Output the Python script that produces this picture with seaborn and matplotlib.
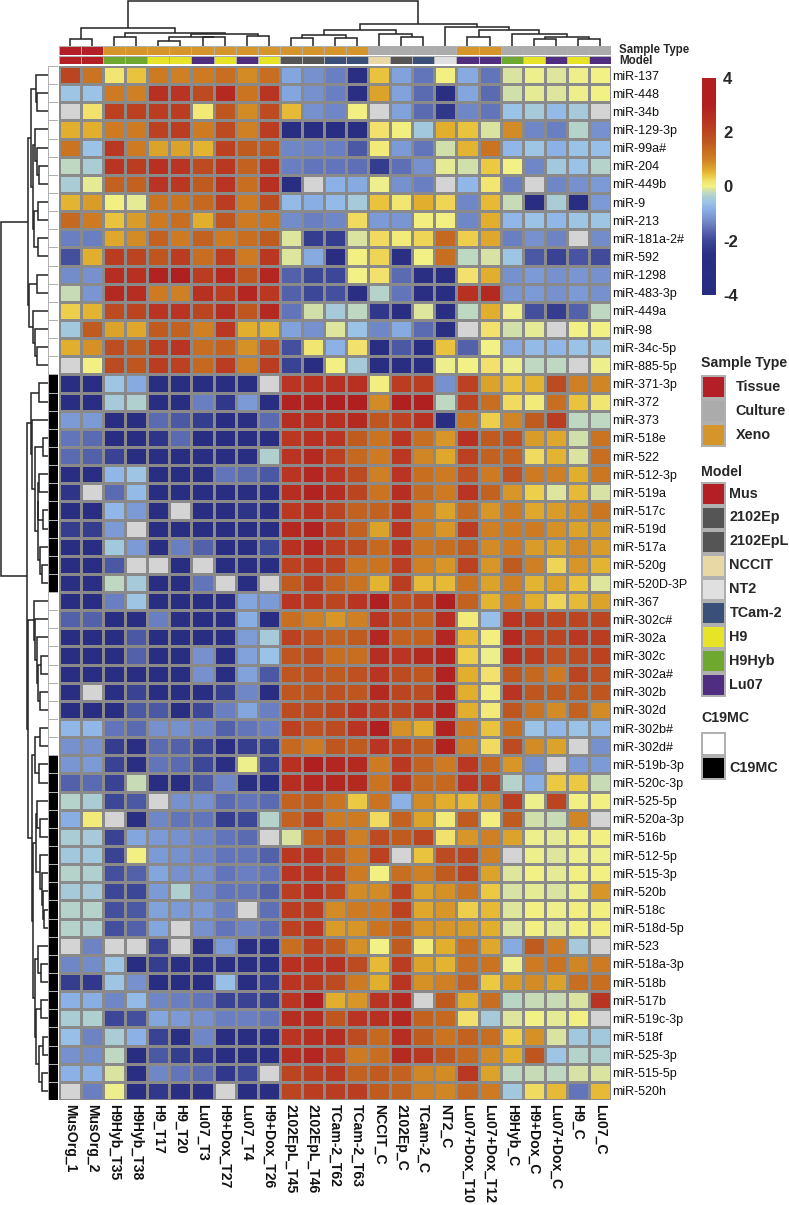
#!/usr/bin/env python3

import numpy as np
import pandas as pd
import seaborn as sns
from matplotlib import pyplot as plt
from matplotlib.colors import LinearSegmentedColormap, ListedColormap

NA = np.nan

samples = ['MusOrg_1', 'MusOrg_2', 'H9Hyb_T35', 'H9Hyb_T38', 'H9_T17', 'H9_T20',
           'Lu07_T3', 'H9+Dox_T27', 'Lu07_T4', 'H9+Dox_T26', '2102EpL_T45',
           '2102EpL_T46', 'TCam-2_T62', 'TCam-2_T63', 'NCCIT_C', '2102Ep_C',
           'TCam-2_C', 'NT2_C', 'Lu07+Dox_T10', 'Lu07+Dox_T12', 'H9Hyb_C',
           'H9+Dox_C', 'Lu07+Dox_C', 'H9_C', 'Lu07_C']

mirnas = ['miR-137', 'miR-448', 'miR-34b', 'miR-129-3p', 'miR-99a#', 'miR-204',
          'miR-449b', 'miR-9', 'miR-213', 'miR-181a-2#', 'miR-592', 'miR-1298',
          'miR-483-3p', 'miR-449a', 'miR-98', 'miR-34c-5p', 'miR-885-5p',
          'miR-371-3p', 'miR-372', 'miR-373', 'miR-518e', 'miR-522', 'miR-512-3p',
          'miR-519a', 'miR-517c', 'miR-519d', 'miR-517a', 'miR-520g', 'miR-520D-3P',
          'miR-367', 'miR-302c#', 'miR-302a', 'miR-302c', 'miR-302a#', 'miR-302b',
          'miR-302d', 'miR-302b#', 'miR-302d#', 'miR-519b-3p', 'miR-520c-3p',
          'miR-525-5p', 'miR-520a-3p', 'miR-516b', 'miR-512-5p', 'miR-515-3p',
          'miR-520b', 'miR-518c', 'miR-518d-5p', 'miR-523', 'miR-518a-3p', 'miR-518b',
          'miR-517b', 'miR-519c-3p', 'miR-518f', 'miR-525-3p', 'miR-515-5p', 'miR-520h']

# top block, miR-137 .. miR-885-5p
values_top = [
    [2.0, 1.2, 0.15, 0.45, 1.1, 1.0, 1.1, 1.3, 0.9, 1.3, -0.95, -1.2, -1.4, -2.6, 0.45, -1.0, -1.5, 0.03, -0.9, -1.5, -0.1, -0.03, -0.08, -0.02, 0.0],
    [-0.55, -0.6, 1.1, 1.0, 2.5, 2.4, 1.9, 2.7, 1.2, 2.4, -0.95, -1.2, -1.4, -2.6, 0.7, -1.0, -1.6, -2.6, -0.95, -1.6, -0.15, -0.05, -0.08, -0.02, 0.0],
    [NA, 0.2, 2.1, 2.1, 2.2, 2.2, 0.12, 1.7, 0.9, 1.9, 0.5, -1.2, -1.3, 0.02, NA, -1.0, -1.6, -2.3, -1.3, -1.5, -0.6, -0.45, -0.7, -0.45, NA],
    [0.6, 0.6, 1.1, 1.1, 2.1, 2.2, 1.1, 1.9, 1.0, 2.2, -3, -3, -3, -3, 0.2, 0.05, -0.5, 0.6, 0.45, -0.1, 0.9, -1.3, -1.4, -0.3, -1.2],
    [1.2, -0.6, 2.3, 1.1, 0.7, 0.7, 0.55, 2.1, 1.6, 1.7, -1.3, -1.35, -1.4, -1.8, 0.1, -1.1, -1.5, -0.15, 0.55, 1.2, -0.75, -0.55, -0.8, -0.6, -0.65],
    [-0.25, -0.4, 2.4, 2.2, 2.5, 2.4, 1.9, 2.3, 1.5, 2.3, -1.4, -1.5, -1.5, -1.55, -2.2, -1.55, -1.2, -0.05, -0.15, 0.4, 0.0, -1.3, -0.5, -0.6, -0.3],
    [-0.4, -0.05, 1.5, 1.5, 2.4, 2.3, 1.6, 2.4, 1.3, 2.5, -3, NA, -0.8, -0.9, -0.02, -1.2, -1.4, NA, -0.75, 0.15, -1.4, NA, -1.3, -1.2, -1.1],
    [0.55, 0.75, 0.02, -0.05, 1.2, 1.2, 1.4, 2.2, 1.1, 1.9, -0.7, -0.85, -0.7, -0.45, 0.45, 0.15, 0.6, 0.3, -1.3, 0.5, -0.2, -3, -0.4, -3, -1.1],
    [1.4, 1.1, 0.45, 0.75, 1.1, 1.3, 0.6, 1.7, 1.1, 1.2, -1.25, -1.4, -1.3, 0.25, -1.1, -1.15, 0.05, 0.02, -1.3, 0.6, -0.75, -0.6, -0.75, -0.55, -0.55],
    [-1.4, -1.4, 0.65, 0.9, 1.5, 1.1, 1.5, 1.1, 1.3, 1.6, -0.08, -2.2, -2.2, -0.1, 0.25, 0.1, 0.3, 1.4, 0.35, 0.65, -1.4, -1.2, -1.35, NA, -1.25],
    [-1.9, 0.6, 2.2, 2.0, 1.7, 2.2, 1.3, 2.2, 1.1, 2.3, -0.08, -0.9, -3, 0.03, 0.3, -2.6, 0.0, 1.3, -0.25, -0.12, -0.55, -1.8, -2.1, -1.85, -1.95],
    [-1.25, -1.2, 2.6, 2.5, 2.9, 3.1, 2.2, 2.7, 1.7, 2.8, -1.7, -2.0, -2.0, 0.0, 0.2, -1.6, -2.6, -3, 0.2, 0.6, -1.2, -1.1, -1.2, -1.15, -1.2],
    [-0.2, -1.15, 2.7, 2.6, 1.1, 1.0, 2.5, 2.2, 2.8, 2.3, -1.7, -2.0, -1.9, -2.6, -0.3, -1.5, -2.6, -3, 2.5, 2.7, -1.15, -1.1, -1.2, -1.1, -1.2],
    [0.35, 0.55, 1.9, 2.0, 2.4, 2.4, 2.0, 2.6, 1.7, 2.7, -1.5, -0.15, -0.45, -0.25, -2.3, -3, -0.08, -3, -0.25, 0.6, -0.03, -1.9, -2.2, -1.7, -0.25],
    [-0.5, 1.6, 0.7, 0.65, 1.6, 1.5, 1.0, 2.3, 0.6, 0.55, -1.0, -1.2, -0.08, -0.6, -1.3, -0.9, -1.6, -2.6, NA, 0.2, -0.15, -0.05, NA, 0.0, 0.0],
    [0.6, 0.85, 1.85, 1.6, 2.2, 2.4, 1.3, 1.5, 0.85, 1.8, -1.9, 0.15, -0.8, 0.2, -3, -1.8, -3, 0.45, -1.7, 0.0, -0.9, -0.7, -0.75, -0.6, -0.55],
    [NA, 0.02, 1.9, 1.7, 2.2, 2.1, 1.4, 2.2, 1.0, 2.2, -2.1, -3, 0.02, -0.45, -3, -3, -3, -0.02, 0.0, 0.2, -0.03, -0.25, -0.25, NA, -0.03],
]

# miR-371-3p .. miR-520D-3P
values_mid1 = [
    [-3, -3, -0.55, -0.9, -3, -3, -3, -3, -3, NA, 2.4, 2.5, 2.5, 2.5, 0.05, 2.2, 2.2, -1.2, 2.1, 0.7, 0.45, 0.55, 1.9, 1.0, 0.95],
    [-3, -3, -0.45, -0.35, -3, -3, -1.4, -2.3, -1.1, -3, 2.9, 2.9, 3.0, 3.0, 0.9, 3.0, 3.0, -0.25, 2.1, 1.3, 0.25, 0.1, 1.3, 0.45, 0.15],
    [-1.1, -1.1, -3, -3, -1.6, -1.8, -2.2, -2.8, -2.7, -1.6, 2.6, 2.5, 2.5, 2.7, 1.7, 2.1, 2.5, -3, 1.2, 0.35, 0.95, 1.6, 2.2, -0.25, -0.25],
    [-1.5, -1.6, -3, -3, -2.4, -1.6, -3, -3, -3, -3, 2.3, 2.5, 2.4, 1.6, 1.2, 2.4, 1.3, 0.8, 2.5, 1.6, 1.8, 0.75, 0.65, -0.15, 1.2],
    [-1.6, -1.7, -2.1, -3, -2.6, -3, -3, -3, -3, -0.35, 2.4, 2.7, 2.1, 1.4, 1.1, 2.3, 0.95, 0.65, 2.1, 1.5, 1.5, 0.25, 0.55, -0.1, 1.3],
    [-3, -3, -0.75, -0.55, -3, -3, -3, -1.5, -1.6, -1.8, 2.4, 2.8, 2.4, 1.9, 1.0, 2.4, 1.3, 1.1, 1.8, 1.1, 1.8, 1.1, 1.0, 0.6, 1.15],
    [-2.4, NA, -1.6, -0.7, -3, -3, -3, -3, -3, -3, 2.6, 2.9, 2.6, 2.0, 1.2, 2.6, 1.4, 1.1, 2.4, 1.5, 0.8, 0.35, -0.08, 0.5, -0.12],
    [-3, -3, -0.75, -1.1, -2.8, NA, -3, -3, -2.4, -3, 2.3, 2.5, 2.0, 1.5, 1.5, 2.3, 1.1, 0.7, 1.4, 0.8, 1.1, 0.65, 0.75, 0.85, 1.15],
    [-2.2, -2.2, -1.1, NA, -3, -3, -3, -3, -3, -3, 2.7, 2.9, 2.2, 1.5, 0.7, 2.4, 1.1, 0.8, 2.2, 1.0, 1.1, 1.1, 0.85, 0.7, 0.75],
    [-3, -3, -0.5, -1.1, -3, -1.4, -1.7, -3, -3, -2.0, 2.5, 2.8, 2.2, 1.9, 1.4, 2.4, 1.2, 1.3, 1.6, 0.9, 1.1, 0.75, 0.7, 0.9, 0.75],
    [-3, -3, -1.8, NA, NA, -3, NA, -3, -3, -3, 2.1, 2.3, 2.1, 1.2, 1.2, 2.2, 1.0, 0.8, 2.1, 0.8, 1.6, 1.0, 0.3, 0.8, 0.55],
    [-2.7, -2.7, -0.25, -0.45, -3, -3, -1.5, NA, -3, NA, 1.6, 2.2, 1.5, 1.2, 0.55, 2.2, 0.5, 0.5, 1.2, 0.7, 1.0, 0.55, 0.7, 0.45, -0.08],
]

# miR-367 .. miR-302d#
values_mid2 = [
    [-3, -3, -1.4, -0.55, -3, -3, -3, -3, -0.95, -1.1, 2.4, 2.3, 2.0, 2.4, 3.0, 1.8, 2.0, 3.0, 1.5, 0.55, 1.0, 0.6, 0.3, 0.5, 0.7],
    [-1.7, -1.7, -3, -3, -1.4, -2.7, -3, -2.8, -0.85, -3, 1.3, 1.0, 0.8, 1.0, 2.4, 1.7, 1.5, 2.6, 0.1, -0.65, 2.4, 2.2, 2.0, 2.0, 2.0],
    [-3, -3, -3, -1.8, -3, -3, -3, -3, -1.05, -0.45, 2.1, 1.8, 1.5, 1.6, 2.8, 1.5, 1.5, 2.8, 0.5, 0.05, 2.7, 2.1, 2.0, 2.3, 2.2],
    [-3, -3, -3.2, -1.7, -3, -3, -1.2, -3, -1.0, -0.6, 1.7, 1.9, 1.3, 1.3, 2.6, 2.4, 2.7, 2.9, 0.35, -0.03, 2.6, 2.2, 1.8, 1.9, 2.1],
    [-3, -3, -2.9, -3, -3, -3, -1.2, -3, -1.0, -1.8, 1.7, 1.8, 1.6, 1.8, 2.4, 1.9, 1.7, 2.9, 0.6, 0.2, 1.7, 1.4, 1.1, 2.0, 1.8],
    [-3, NA, -2.6, -2.1, -3, -3, -2.8, -2.2, -1.3, -3, 1.7, 1.7, 1.8, 1.7, 2.7, 2.0, 1.9, 2.9, 0.6, 0.05, 2.4, 1.7, 1.6, 1.6, 1.7],
    [-3, -3, -3.2, -1.8, -1.8, -3.2, -2.0, -1.4, -0.95, -1.4, 1.9, 1.9, 2.0, 2.4, 2.2, 2.0, 2.4, 2.9, 0.6, 0.1, 1.7, 1.2, 0.9, 1.5, 0.9],
    [-0.75, -0.75, -1.5, -1.6, -1.2, -1.2, -1.3, -1.7, -1.5, -1.4, 2.1, 1.8, 1.9, 2.4, 3.0, 0.85, 0.6, 2.9, 1.1, 0.45, 1.3, -0.6, -0.75, -0.6, -0.7],
    [-1.2, -1.2, -2.2, -2.6, -1.6, -1.7, -2.1, -2.6, -2.2, -2.2, 1.4, 1.1, 1.7, 1.6, 2.4, 2.0, 1.6, 2.9, 1.0, 0.25, 1.9, 0.9, 0.7, NA, -1.2],
]

# miR-519b-3p .. miR-520h
values_low = [
    [-1.15, -1.1, -2.1, -2.5, -1.5, -1.6, -2.0, -2.6, -0.03, -2.2, 2.5, 3.0, 2.8, 2.7, 1.1, 2.3, 1.5, 1.1, 2.3, 1.4, 0.8, -1.2, NA, -1.1, -1.1],
    [-1.7, -1.6, -2.1, -0.2, -2.8, -2.8, -1.8, -1.3, -3.1, -3, 2.6, 2.8, 2.8, 2.7, 1.2, 2.3, 1.4, 1.4, 2.4, 2.1, -0.3, -0.85, 0.4, 0.4, -0.2],
    [-0.3, -0.4, -2.0, -1.8, NA, -1.2, -1.2, -1.6, -1.5, -1.6, 1.5, 1.6, 1.2, 0.4, 1.2, -0.8, 0.9, 0.6, 0.5, 0.85, 2.2, -0.02, 2.0, 0.02, 0.03],
    [-0.85, 0.1, NA, -2.5, -1.3, -1.5, -1.5, -2.2, -2.0, -0.3, 1.5, 2.1, 1.1, 1.1, 0.25, 1.5, 0.7, 0.1, 1.6, 0.05, 1.6, -0.15, -0.2, 0.95, NA],
    [-0.4, -0.45, -2.1, -0.95, -1.1, -1.2, -1.3, -1.5, -1.6, NA, -0.1, 1.5, 1.9, 1.0, 1.9, 1.6, 2.0, 0.2, 0.8, 1.0, 0.7, -0.03, -0.05, 0.02, 0.02],
    [-0.5, -0.5, -2.1, 0.03, -1.1, -1.2, -1.3, -1.5, -1.5, -1.7, 2.3, 2.4, 1.7, 1.1, 2.1, NA, 0.45, 1.9, 2.0, 1.0, NA, -0.03, -0.08, -0.03, -0.03],
    [-0.3, -0.35, -1.9, -1.7, -0.95, -1.2, -1.2, -1.5, -1.4, -1.5, 2.4, 2.4, 2.2, 1.1, 0.03, 1.3, 1.0, 1.6, 2.0, 0.7, -0.08, 0.0, -0.05, 0.02, 0.03],
    [-0.45, -0.45, -2.0, -2.0, -1.1, -0.35, -1.25, -1.5, -1.5, -1.7, 2.2, 2.5, 2.1, 0.9, 0.9, 2.1, 0.7, 0.85, 1.2, 0.4, -0.12, -0.05, -0.1, -0.02, 0.8],
    [-0.3, -0.3, -1.9, -1.8, -1.0, -1.1, -1.1, -1.4, NA, -1.55, 2.2, 2.2, 0.9, 1.1, 1.1, 2.1, 0.65, 0.8, 0.35, 0.5, -0.08, 0.02, -0.03, 0.05, 0.05],
    [-0.3, -0.35, -1.9, -1.7, -0.95, NA, -1.2, -1.5, -1.35, -1.55, 2.1, 2.3, 0.75, 0.8, 1.2, 1.6, 0.8, 0.8, 0.75, 0.6, -0.08, 0.03, -0.05, 0.03, 0.05],
    [NA, -1.35, NA, NA, -2.1, NA, -2.5, -1.1, -3, -3, 1.3, 2.1, 1.6, 0.85, 0.0, 1.6, 0.08, 0.6, 1.3, 0.65, -0.9, 1.6, 1.1, -0.45, NA],
    [-1.3, -1.25, -0.55, -3, -2.2, -2.6, -2.6, -3, -3, -3, 2.5, 2.5, 2.5, 1.9, 0.5, 2.2, 0.7, 0.55, 1.3, 1.2, -0.02, 1.1, 1.2, 0.95, 1.1],
    [-2.2, -2.3, -0.55, -1.2, -3, -3, -3, -0.65, -3, -2.3, 2.4, 2.3, 1.9, 1.1, 0.6, 2.4, 0.85, 1.0, 1.5, 0.4, 0.75, 0.9, 0.7, 1.3, 1.3],
    [-0.8, -0.85, -1.3, -0.7, -1.3, -1.4, -1.5, -2.1, -2.1, -2.2, 2.4, 3.0, 0.6, 0.8, 2.4, 2.7, NA, 1.6, 0.6, 1.3, -0.28, -0.2, -0.2, -0.1, 2.4],
    [-0.4, -0.35, -2.0, -1.9, -0.95, -1.1, -1.2, -1.4, -1.4, -1.5, 2.6, 2.6, 1.7, 2.4, 2.5, 2.8, 1.5, 1.4, 0.2, -0.45, -0.08, 0.0, -0.05, 0.03, NA],
    [-0.65, -1.35, -0.4, -0.8, -2.1, -2.5, -1.3, -3, -3, -3, 2.4, 2.6, 2.6, 1.9, 1.4, 2.6, 1.6, 1.2, 1.5, 1.3, 0.35, 0.85, -0.1, -0.5, -0.5],
    [-1.2, -1.25, -0.25, -3, -1.8, -2.2, -2.3, -2.8, -2.8, -3, 2.6, 2.8, 2.2, 1.1, 1.3, 2.7, 2.3, 1.7, 1.4, 0.9, 0.6, 1.7, -0.55, -0.3, -0.35],
    [-0.8, -0.8, -0.1, -2.5, -1.3, -1.5, -1.6, -2.3, -2.0, NA, 2.0, 2.2, 2.3, 1.5, 1.6, 1.5, 0.95, 0.9, 2.3, 0.7, -0.25, -0.2, -0.25, -0.12, -0.1],
    [NA, -1.4, -0.03, -3, -2.3, -2.5, -2.7, NA, -3, -2.8, 2.0, 2.2, 2.2, 2.2, 1.6, 1.5, 1.0, 0.95, 1.4, 1.1, -0.5, 0.25, 0.5, -1.5, 0.5],
]

sample_types = ['Tissue', 'Culture', 'Xeno']
sample_type_colors = ['#b41f27', '#ababab', '#d5952a']
sample_type = ['Tissue'] * 2 + ['Xeno'] * 12 + ['Culture'] * 4 + ['Xeno'] * 2 + ['Culture'] * 5

models = ['Mus', '2102Ep', '2102EpL', 'NCCIT', 'NT2', 'TCam-2', 'H9', 'H9Hyb', 'Lu07']
model_colors = ['#b41f25', '#555555', '#555555', '#e8d8a5', '#e0e0e0', '#3b5078',
                '#e7e327', '#6fa82e', '#4f2d80']
model = ['Mus', 'Mus', 'H9Hyb', 'H9Hyb', 'H9', 'H9', 'Lu07', 'H9', 'Lu07', 'H9',
         '2102EpL', '2102EpL', 'TCam-2', 'TCam-2', 'NCCIT', '2102Ep', 'TCam-2', 'NT2',
         'Lu07', 'Lu07', 'H9Hyb', 'H9', 'Lu07', 'H9', 'Lu07']

c19_colors = ['#ffffff', '#000000']
c19mc = [0] * 17 + [1] * 12 + [0] * 9 + [1] * 19

# value -> colour stops
cmap_values = [-4, -2.5, -2, -1.7, -1.4, -1.1, -0.8, -0.6, -0.4, -0.25, -0.1, 0, 0.2,
               0.4, 0.6, 0.8, 1.0, 1.3, 1.6, 2.0, 2.4, 3.0, 4]
cmap_colors = ['#272c80', '#2a2f84', '#3d4797', '#5361ab', '#6a7fc1', '#7c9ad5', '#8cb2e6',
               '#9bc3e8', '#a9ccd5', '#bcd7c3', '#dbe3a0', '#f2f286', '#f2e26c', '#ebc942',
               '#e1ae2e', '#d79727', '#cf8024', '#c86e20', '#c05b20', '#bc4621', '#b93422',
               '#b02020', '#b02020']

# dendrograms: (merge height, left, right), ints are leaves
col_tree = (45,
            (18, (7, 0, 1),
             (13, (9, 2, 3),
              (12.5, (9.3, (5, 4, 5), (8.8, 6, 7)), (10, 8, 9)))),
            (22,
             (16, (11, (8, 10, 11), (8, 12, 13)), (12, 14, (9.5, 15, 16))),
             (19, 17, (16, (9, 18, 19), (12, 20, (9, (7, 21, 22), (7.3, 23, 24)))))))

row_tree_a = (28.3,
              (30.7, (36, 0, (36.7, 1, 2)),
               (32.5, (35, 3, (36.7, 4, (39.3, 5, 6))),
                (33.5, (38.3, 7, 8), (37.7, 9, 10)))),
              (29.3, (36.7, 11, 12),
               (33.3, 13, (35, 14, (36.7, 15, 16)))))
row_tree_b = (27,
              (30.7, (38.5, 17, 18),
               (32, 19, (35, (43, 20, 21),
                         (37.5, (38, (38.5, 22, 23), (43, 24, 25)),
                          (40, 26, (41.5, 27, 28)))))),
              (28,
               (33.5, 29, (35, 30, (37, 31, (38.2, (40.7, 32, 33), (39.5, 34, 35))))),
               (32, (35, (39.5, 36, 37), (38.5, 38, 39)),
                (33.3,
                 (35.7, (37, 40, (39.5, 41, 42)),
                  (39.5, 43, (41.5, 44, (42.5, 45, (44, 46, 47))))),
                 (35, (38, 48, (40.7, 49, 50)),
                  (35.7, (40.7, 51, 52),
                   (39.3, (42.7, 53, 54), (41.7, 55, 56))))))))
row_tree = (1, row_tree_a, row_tree_b)

W, H = 789, 1205
GRID = '#8a8a8a'
LIGHT = '#b0b0b0'


def px_axes(f, x0, y0, x1, y1):
    return f.add_axes([x0 / W, 1 - y1 / H, (x1 - x0) / W, (y1 - y0) / H])


def draw_col_tree(ax, node):
    if not isinstance(node, tuple):
        return node + 0.5, 0
    h, left, right = node
    x0, h0 = draw_col_tree(ax, left)
    x1, h1 = draw_col_tree(ax, right)
    ax.plot([x0, x0, x1, x1], [h0, h, h, h1], color='#222222', lw=1.1,
            solid_joinstyle='miter', solid_capstyle='butt')
    return (x0 + x1) / 2, h


def draw_row_tree(ax, node):
    if not isinstance(node, tuple):
        return node + 0.5, 48
    x, top, bottom = node
    y0, x0 = draw_row_tree(ax, top)
    y1, x1 = draw_row_tree(ax, bottom)
    ax.plot([x0, x, x, x1], [y0, y0, y1, y1], color='#222222', lw=1.1,
            solid_joinstyle='miter', solid_capstyle='butt')
    return (y0 + y1) / 2, x


def strip(ax, codes, colors, lw=0.55):
    sns.heatmap(codes, cmap=ListedColormap(colors), vmin=-0.5, vmax=len(colors) - 0.5,
                cbar=False, linewidths=lw, linecolor=LIGHT, ax=ax,
                xticklabels=False, yticklabels=False)
    ax.tick_params(length=0)


def legend_strip(ax, colors, labels, pad):
    codes = [[i] for i in range(len(colors))]
    strip(ax, codes, colors, lw=1.5)
    ax.yaxis.tick_right()
    # the labels sit a little above the middle of each swatch
    ax.set_yticks(np.arange(len(labels)) + 0.42, labels=labels)
    ax.tick_params(axis='y', length=0, pad=pad, labelright=True, labelleft=False)
    plt.setp(ax.get_yticklabels(), rotation=0, fontsize=10.4, fontweight='bold')


def plot(out_file):
    sns.set_theme(style='white')
    plt.rcParams['font.family'] = ['Liberation Sans', 'DejaVu Sans']
    plt.rcParams['axes.unicode_minus'] = False

    df = pd.DataFrame(values_top + values_mid1 + values_mid2 + values_low,
                      index=mirnas, columns=samples)
    cmap = LinearSegmentedColormap.from_list(
        'mirna', [((v + 4) / 8, c) for v, c in zip(cmap_values, cmap_colors)], N=512)

    f = plt.figure(figsize=(W / 100, H / 100), dpi=100)

    ax = px_axes(f, 59, 66, 611, 1100)
    cax = px_axes(f, 702, 78, 716, 295)
    ax.set_facecolor('#d4d4d4')
    sns.heatmap(df, cmap=cmap, vmin=-4, vmax=4, linewidths=0.75, linecolor=GRID, ax=ax,
                cbar_ax=cax, xticklabels=True, yticklabels=True,
                cbar_kws={'ticks': [-4, -2, 0, 2, 4]})
    ax.patch.set_visible(True)
    ax.set_xlabel('')
    ax.set_ylabel('')
    ax.yaxis.tick_right()
    ax.tick_params(axis='y', length=0, pad=1, labelright=True, labelleft=False)
    ax.tick_params(axis='x', length=0, pad=3)
    plt.setp(ax.get_yticklabels(), rotation=0, fontsize=9, color='#111111')
    plt.setp(ax.get_xticklabels(), rotation=-90, ha='center', va='top', fontsize=10.1,
             color='#111111', fontweight='bold')

    cax.tick_params(length=0, pad=5)
    for lab in cax.get_yticklabels():
        lab.set_fontsize(12)
        lab.set_fontweight('bold')

    # annotation strips over and beside the heatmap
    type_ax = px_axes(f, 59, 45.5, 611, 54.5)
    strip(type_ax, [[sample_types.index(s) for s in sample_type]], sample_type_colors)
    model_ax = px_axes(f, 59, 55.5, 611, 64)
    strip(model_ax, [[models.index(m) for m in model]], model_colors)
    side_ax = px_axes(f, 48, 66, 57.5, 1100)
    strip(side_ax, [[c] for c in c19mc], c19_colors)

    f.text(619 / W, 1 - 50 / H, 'Sample Type', fontsize=8.3, fontweight='bold',
           va='center', ha='left')
    f.text(619 / W, 1 - 61 / H, 'Model', fontsize=8.3, fontweight='bold',
           va='center', ha='left')

    # dendrograms
    top_ax = px_axes(f, 59, 0, 611, 46)
    top_ax.set_xlim(0, len(samples))
    top_ax.set_ylim(0, 46)
    draw_col_tree(top_ax, col_tree)
    top_ax.axis('off')

    left_ax = px_axes(f, 0, 66, 48, 1100)
    left_ax.set_xlim(0, 48)
    left_ax.set_ylim(len(mirnas), 0)
    draw_row_tree(left_ax, row_tree)
    left_ax.axis('off')

    # legends
    f.text(701 / W, 1 - 363 / H, 'Sample Type', fontsize=10.2, fontweight='bold', va='center')
    leg_type = px_axes(f, 701, 375, 726, 447)
    legend_strip(leg_type, sample_type_colors, sample_types, pad=7)

    f.text(701 / W, 1 - 472 / H, 'Model', fontsize=10.2, fontweight='bold', va='center')
    leg_model = px_axes(f, 701, 482, 726, 697)
    legend_strip(leg_model, model_colors, models, pad=2.5)

    f.text(701 / W, 1 - 718 / H, 'C19MC', fontsize=10.2, fontweight='bold', va='center')
    leg_c19 = px_axes(f, 701, 732, 726, 780)
    legend_strip(leg_c19, c19_colors, ['', 'C19MC'], pad=2.5)

    f.savefig(out_file, dpi=100)


if __name__ == '__main__':
    plot('out.png')
